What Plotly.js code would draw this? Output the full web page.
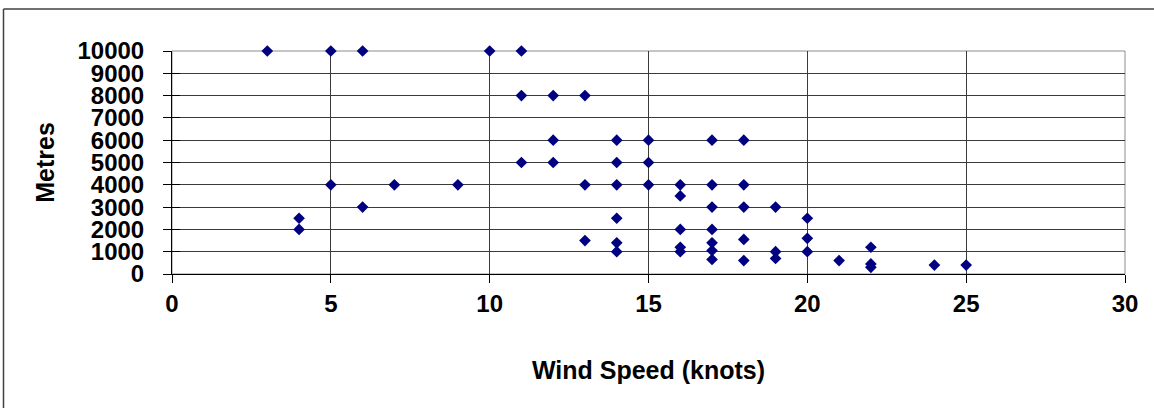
<!DOCTYPE html>
<html>
<head>
<meta charset="utf-8">
<script src="https://cdn.plot.ly/plotly-3.0.1.min.js"></script>
<style>
html,body{margin:0;padding:0;background:#fff;}
#chart{width:1154px;height:408px;}
</style>
</head>
<body>
<div id="chart"></div>
<script>
// Wind speed (knots) vs height (metres)
const windSpeed = [
  3,
  4, 4,
  5, 5,
  6, 6,
  7,
  9,
  10,
  11, 11, 11,
  12, 12, 12,
  13, 13, 13,
  14, 14, 14, 14, 14, 14,
  15, 15, 15,
  16, 16, 16, 16, 16,
  17, 17, 17, 17, 17, 17, 17,
  18, 18, 18, 18, 18,
  19, 19, 19,
  20, 20, 20,
  21,
  22, 22, 22,
  24,
  25
];
const metres = [
  10000,
  2500, 2000,
  10000, 4000,
  10000, 3000,
  4000,
  4000,
  10000,
  10000, 8000, 5000,
  8000, 6000, 5000,
  8000, 4000, 1500,
  6000, 5000, 4000, 2500, 1400, 1000,
  6000, 5000, 4000,
  4000, 3500, 2000, 1200, 1000,
  6000, 4000, 3000, 2000, 1400, 1050, 650,
  6000, 4000, 3000, 1550, 600,
  3000, 1000, 700,
  2500, 1600, 1000,
  600,
  1200, 450, 300,
  400,
  400
];
const xTickVals = [0, 5, 10, 15, 20, 25, 30];
const yTickVals = [0, 1000, 2000, 3000, 4000, 5000, 6000, 7000, 8000, 9000, 10000];
const xTitle = 'Wind Speed (knots)';
const yTitle = 'Metres';

const fontFam = 'Liberation Sans, Arial, sans-serif';

const trace = {
  x: windSpeed,
  y: metres,
  type: 'scatter',
  mode: 'markers',
  cliponaxis: false,
  marker: {symbol: 'diamond', size: 9, color: '#000080', line: {width: 0}},
  hoverinfo: 'x+y',
  showlegend: false
};

const L = 172, R = 1125, T = 51, B = 274, W = 1154, H = 408;
const pw = R - L, ph = B - T;
function px2x(p){ return (p - L) / pw; }
function px2y(p){ return (B - p) / ph; }

const layout = {
  width: W, height: H,
  margin: {l: L, r: W - R, t: T, b: H - B, pad: 0},
  paper_bgcolor: '#ffffff',
  plot_bgcolor: '#ffffff',
  showlegend: false,
  xaxis: {
    range: [0, 30],
    tickvals: xTickVals,
    ticktext: xTickVals.map(String),
    showgrid: true, gridcolor: '#3a3a3a', gridwidth: 1,
    zeroline: false,
    showline: true, linecolor: '#000000', linewidth: 1,
    ticks: 'outside', ticklen: 8, tickcolor: '#000000', tickwidth: 1,
    ticklabelstandoff: 0,
    tickfont: {family: fontFam, size: 24, color: '#000000', weight: 'bold'},
    title: {text: xTitle, font: {family: fontFam, size: 25, color: '#000000', weight: 'bold'}, standoff: 45},
    automargin: false,
    fixedrange: true
  },
  yaxis: {
    range: [0, 10000],
    tickvals: yTickVals,
    ticktext: yTickVals.map(String),
    showgrid: true, gridcolor: '#3a3a3a', gridwidth: 1,
    zeroline: false,
    showline: true, linecolor: '#000000', linewidth: 1,
    ticks: 'outside', ticklen: 8, tickcolor: '#000000', tickwidth: 1,
    ticklabelstandoff: 14,
    tickfont: {family: fontFam, size: 24, color: '#000000', weight: 'bold'},
    title: {text: yTitle, font: {family: fontFam, size: 25, color: '#000000', weight: 'bold'}, standoff: 15},
    automargin: false,
    fixedrange: true
  },
  yaxis2: {
    overlaying: 'y', matches: 'y', range: [0, 10000],
    tickvals: yTickVals, showticklabels: false, showgrid: false, zeroline: false,
    ticks: 'inside', ticklen: 8, tickcolor: '#000000', tickwidth: 1, showline: false,
    fixedrange: true
  },
  shapes: [
    {type: 'rect', xref: 'paper', yref: 'paper', x0: 0, x1: 1, y0: 0, y1: 1,
     line: {color: '#8c8c8c', width: 1}, fillcolor: 'rgba(0,0,0,0)', layer: 'below'},
    {type: 'line', xref: 'paper', yref: 'paper',
     x0: px2x(3.5), x1: px2x(1154), y0: px2y(9), y1: px2y(9),
     line: {color: '#404040', width: 1.5}, layer: 'above'},
    {type: 'line', xref: 'paper', yref: 'paper',
     x0: px2x(3.5), x1: px2x(3.5), y0: px2y(9), y1: px2y(408),
     line: {color: '#404040', width: 1.5}, layer: 'above'}
  ]
};

const ghost = {x: [0], y: [0], yaxis: 'y2', type: 'scatter', mode: 'markers',
  marker: {opacity: 0}, hoverinfo: 'skip', showlegend: false};

Plotly.newPlot('chart', [trace, ghost], layout, {displayModeBar: false, staticPlot: true});
</script>
</body>
</html>
